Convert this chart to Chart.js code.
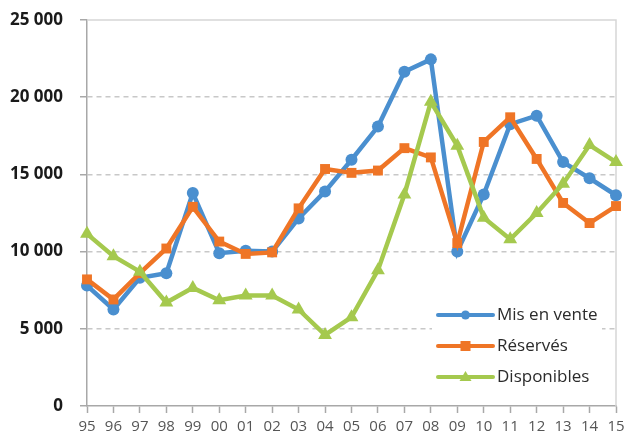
<!DOCTYPE html>
<html>
<head>
<meta charset="utf-8">
<script src="https://cdn.jsdelivr.net/npm/chart.js@4/dist/chart.umd.min.js"></script>
<style>
  html, body { margin: 0; padding: 0; background: #fff; }
  #wrap { width: 625px; height: 444px; position: relative; }
</style>
</head>
<body>
<div id="wrap"><canvas id="c" width="625" height="444"></canvas></div>
<script>
// Years (two-digit labels)
const years = ['95','96','97','98','99','00','01','02','03','04','05','06','07','08','09','10','11','12','13','14','15'];

// Logements mis en vente
const misEnVente = [7800, 6250, 8300, 8600, 13800, 9900, 10050, 10000, 12150, 13900, 15950, 18100, 21650, 22450, 10000, 13700, 18250, 18800, 15800, 14750, 13650];
// Logements réservés
const reserves = [8200, 6900, 8600, 10200, 12900, 10650, 9850, 9950, 12800, 15350, 15100, 15250, 16700, 16100, 10550, 17100, 18700, 16000, 13150, 11850, 12950];
// Logements disponibles
const disponibles = [11150, 9700, 8700, 6700, 7650, 6850, 7150, 7150, 6250, 4600, 5750, 8800, 13700, 19700, 16850, 12200, 10800, 12500, 14400, 16900, 15800];

const yTicks = [0, 5000, 10000, 15000, 20000, 25000];

const BLUE = '#4a8fcf';
const ORANGE = '#ef7526';
const GREEN = '#a5c94e';
const FONT = '"Open Sans", "DejaVu Sans", sans-serif';

const fmt = v => v === 0 ? '0' : String(v).replace(/\B(?=(\d{3})+(?!\d))/g, ' ');

// Light frame on the top and right of the plot area
const framePlugin = {
  id: 'frame',
  beforeDatasetsDraw(chart) {
    const { ctx, chartArea: a } = chart;
    ctx.save();
    ctx.strokeStyle = '#d6d6d6';
    ctx.lineWidth = 1.5;
    ctx.beginPath();
    ctx.moveTo(a.left, a.top);
    ctx.lineTo(a.right, a.top);
    ctx.lineTo(a.right, a.bottom);
    ctx.stroke();
    ctx.restore();
  }
};

// Legend drawn inside the plot, lower right, line + marker samples
const insideLegend = {
  id: 'insideLegend',
  afterDraw(chart) {
    const { ctx } = chart;
    const items = [
      { label: 'Mis en vente', color: BLUE, style: 'circle' },
      { label: 'Réservés', color: ORANGE, style: 'rect' },
      { label: 'Disponibles', color: GREEN, style: 'triangle' }
    ];
    const x0 = 438, x1 = 493, tx = 497;
    const ys = [315, 346, 377];
    ctx.save();
    ctx.fillStyle = '#fff';
    ctx.fillRect(432, 298, 170, 94);
    items.forEach((it, i) => {
      const y = ys[i];
      ctx.strokeStyle = it.color;
      ctx.lineWidth = 4;
      ctx.lineCap = 'round';
      ctx.beginPath();
      ctx.moveTo(x0, y);
      ctx.lineTo(x1, y);
      ctx.stroke();
      ctx.fillStyle = it.color;
      const cx = (x0 + x1) / 2;
      ctx.beginPath();
      if (it.style === 'circle') {
        ctx.arc(cx, y, 4.5, 0, Math.PI * 2);
      } else if (it.style === 'rect') {
        ctx.rect(cx - 5, y - 5, 10, 10);
      } else {
        ctx.moveTo(cx, y - 6);
        ctx.lineTo(cx + 6, y + 4);
        ctx.lineTo(cx - 6, y + 4);
        ctx.closePath();
      }
      ctx.fill();
      ctx.fillStyle = '#2b2b2b';
      ctx.font = '17px ' + FONT;
      ctx.textBaseline = 'middle';
      ctx.textAlign = 'left';
      ctx.fillText(it.label, tx, y);
    });
    ctx.restore();
  }
};

const common = { borderWidth: 4.5, pointBorderWidth: 0, tension: 0, clip: false };

new Chart(document.getElementById('c'), {
  type: 'line',
  data: {
    labels: years,
    datasets: [
      Object.assign({ label: 'Mis en vente', data: misEnVente, borderColor: BLUE, backgroundColor: BLUE,
        pointStyle: 'circle', pointRadius: 6, order: 2 }, common),
      Object.assign({ label: 'Réservés', data: reserves, borderColor: ORANGE, backgroundColor: ORANGE,
        pointStyle: 'rect', pointRadius: 7, order: 1 }, common),
      Object.assign({ label: 'Disponibles', data: disponibles, borderColor: GREEN, backgroundColor: GREEN,
        pointStyle: 'triangle', pointRadius: 8, order: 0 }, common)
    ]
  },
  options: {
    responsive: false,
    animation: false,
    events: [],
    layout: { padding: { top: 20, right: 9, left: 0, bottom: 0 } },
    plugins: { legend: { display: false }, tooltip: { enabled: false } },
    scales: {
      x: {
        offset: false,
        grid: { drawOnChartArea: false, drawTicks: true, tickLength: 7, tickColor: '#a8a8a8', tickWidth: 1.5 },
        border: { color: '#a8a8a8', width: 1.5 },
        ticks: { color: '#555', font: { family: FONT, size: 15 }, padding: 5, autoSkip: false, maxRotation: 0 },
        afterFit(s) { s.height = 38; s.paddingLeft = 0; s.paddingRight = 0; }
      },
      y: {
        min: 0, max: 25000,
        afterBuildTicks(s) { s.ticks = yTicks.map(v => ({ value: v })); },
        grid: {
          color: c => (c.tick && (c.tick.value === 25000 || c.tick.value === 0)) ? 'rgba(0,0,0,0)' : '#c8c8c8',
          lineWidth: 1.5,
          tickLength: 7, tickColor: '#a8a8a8', tickWidth: 1.5
        },
        border: { color: '#a8a8a8', width: 1.5, dash: [5, 4] },
        ticks: { color: '#1a1a1a', font: { family: FONT, size: 17, weight: 'bold' }, padding: 17, callback: v => fmt(v) },
        afterFit(s) { s.width = 87; s.paddingTop = 0; s.paddingBottom = 0; }
      }
    }
  },
  plugins: [framePlugin, insideLegend]
});
</script>
</body>
</html>
